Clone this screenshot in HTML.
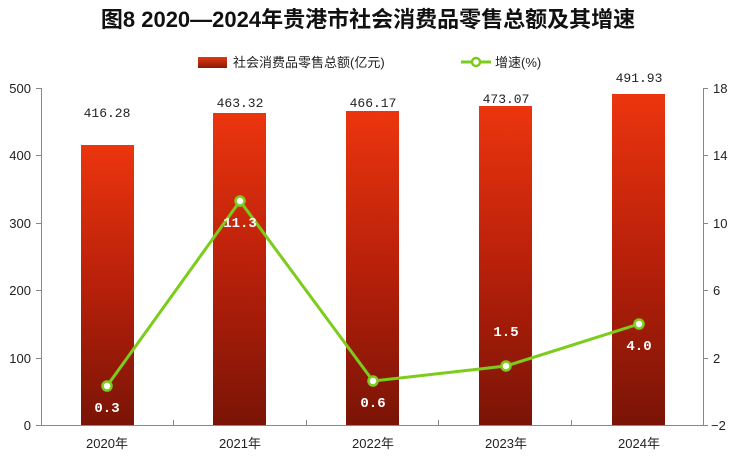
<!DOCTYPE html>
<html><head><meta charset="utf-8"><style>
body{margin:0;background:#fff;width:737px;height:468px;overflow:hidden}
text{font-family:"Liberation Sans","Noto Sans CJK SC",sans-serif}
</style></head><body>
<svg width="737" height="468" xmlns="http://www.w3.org/2000/svg">
<defs>
<linearGradient id="g" x1="0" y1="0" x2="0" y2="1">
<stop offset="0" stop-color="#ec350e"/><stop offset="0.5" stop-color="#b8200a"/><stop offset="1" stop-color="#7a1406"/></linearGradient>
<linearGradient id="lg" x1="0" y1="0" x2="0" y2="1">
<stop offset="0" stop-color="#e03a10"/><stop offset="1" stop-color="#8a1a08"/></linearGradient>
</defs>
<text x="368" y="27" text-anchor="middle" font-size="22" font-weight="bold" fill="#111">图8  2020—2024年贵港市社会消费品零售总额及其增速</text>
<rect x="198" y="57" width="29" height="11" fill="url(#lg)"/>
<text x="233" y="67" font-size="13" fill="#222">社会消费品零售总额(亿元)</text>
<line x1="461" y1="62" x2="491" y2="62" stroke="#7ccc1c" stroke-width="3"/>
<circle cx="476" cy="62" r="4" fill="#fff" stroke="#7ccc1c" stroke-width="2.5"/>
<text x="495" y="67" font-size="13" fill="#222">增速(%)</text>
<g stroke="#888" stroke-width="1" fill="none">
<path d="M41.5 88V425.5H703.5V88"/>
<path d="M36 88.5h5M36 155.5h5M36 223.5h5M36 290.5h5M36 358.5h5M36 425.5h5"/>
<path d="M703 88.5h5M703 155.5h5M703 223.5h5M703 290.5h5M703 358.5h5M703 425.5h5"/>
<path d="M173.5 420v5M306.5 420v5M438.5 420v5M571.5 420v5"/>
</g>
<g font-size="13" fill="#222">
<g text-anchor="end"><text x="31" y="93">500</text><text x="31" y="160">400</text><text x="31" y="228">300</text><text x="31" y="295">200</text><text x="31" y="363">100</text><text x="31" y="430">0</text></g>
<text x="713" y="93">18</text><text x="713" y="160">14</text><text x="713" y="228">10</text><text x="713" y="295">6</text><text x="713" y="363">2</text><text x="711" y="430">−2</text>
<g text-anchor="middle"><text x="107" y="448">2020年</text><text x="240" y="448">2021年</text><text x="373" y="448">2022年</text><text x="506" y="448">2023年</text><text x="639" y="448">2024年</text></g>
</g>
<g fill="url(#g)">
<rect x="81" y="145" width="53" height="280"/>
<rect x="213" y="113" width="53" height="312"/>
<rect x="346" y="111" width="53" height="314"/>
<rect x="479" y="106" width="53" height="319"/>
<rect x="612" y="94" width="53" height="331"/>
</g>
<g font-size="13" fill="#222" text-anchor="middle">
<text style="font-family:'Liberation Mono',monospace" x="107" y="117">416.28</text><text style="font-family:'Liberation Mono',monospace" x="240" y="107">463.32</text><text style="font-family:'Liberation Mono',monospace" x="373" y="107">466.17</text><text style="font-family:'Liberation Mono',monospace" x="506" y="103">473.07</text><text style="font-family:'Liberation Mono',monospace" x="639" y="82">491.93</text>
</g>
<polyline points="107,386 240,201 373,381 506,366 639,324" fill="none" stroke="#7ccc1c" stroke-width="3"/>
<g fill="#fff" stroke="#7ccc1c" stroke-width="2.5">
<circle cx="107" cy="386" r="4.5"/><circle cx="240" cy="201" r="4.5"/><circle cx="373" cy="381" r="4.5"/><circle cx="506" cy="366" r="4.5"/><circle cx="639" cy="324" r="4.5"/>
</g>
<g font-size="14" fill="#fff" font-weight="bold" text-anchor="middle">
<text style="font-family:'Liberation Mono',monospace" x="107" y="412">0.3</text><text style="font-family:'Liberation Mono',monospace" x="240" y="227">11.3</text><text style="font-family:'Liberation Mono',monospace" x="373" y="407">0.6</text><text style="font-family:'Liberation Mono',monospace" x="506" y="336">1.5</text><text style="font-family:'Liberation Mono',monospace" x="639" y="350">4.0</text>
</g>
</svg>
</body></html>
